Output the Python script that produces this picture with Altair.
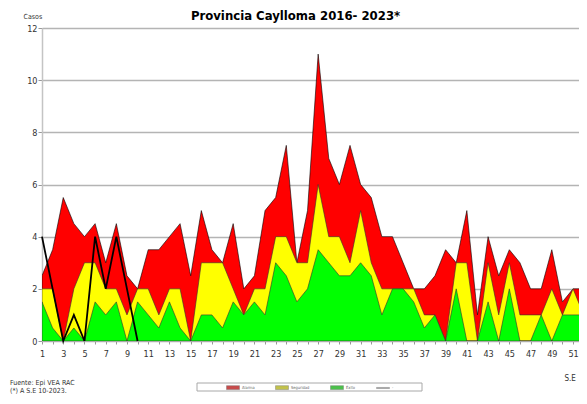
import altair as alt
import pandas as pd

# canal endemico, semanas epidemiologicas 1-52
semanas = list(range(1, 53))
alarma = [2.5, 3.5, 5.5, 4.5, 4, 4.5, 3, 4.5, 2.5, 2, 3.5, 3.5, 4, 4.5, 2.5, 5,
          3.5, 3, 4.5, 2, 2.5, 5, 5.5, 7.5, 3, 5, 11, 7, 6, 7.5, 6, 5.5, 4, 4,
          3, 2, 2, 2.5, 3.5, 3, 5, 1, 4, 2.5, 3.5, 3, 2, 2, 3.5, 1.5, 2, 2]
seguridad = [2, 2, 0, 2, 3, 3, 2, 2, 1, 2, 2, 1, 2, 2, 0, 3, 3, 3, 2, 1, 2, 2,
             4, 4, 3, 3, 6, 4, 4, 3, 5, 3, 2, 2, 2, 2, 1, 1, 0, 3, 3, 0, 3, 1,
             3, 1, 1, 1, 2, 1, 2, 1]
exito = [1.5, 0.5, 0, 0.5, 0, 1.5, 1, 1.5, 0, 1.5, 1, 0.5, 1.5, 0.5, 0, 1, 1,
         0.5, 1.5, 1, 1.5, 1, 3, 2.5, 1.5, 2, 3.5, 3, 2.5, 2.5, 3, 2.5, 1, 2, 2,
         1.5, 0.5, 1, 0, 2, 0, 0, 1.5, 0, 2, 0, 0, 1, 0, 1, 1, 1]
casos_2023 = [4, 2, 0, 1, 0, 4, 2, 4, 2, 0]

serie_nombres = ["Alarma", "Seguridad", "Éxito", "-"]
serie_colores = ["#b00000", "#a8a800", "#00a800", "#808080"]

FONT = "DejaVu Sans Condensed, Liberation Sans, sans-serif"

W, H = 537, 313

df = pd.DataFrame({"semana": semanas, "alarma": alarma,
                   "seguridad": seguridad, "exito": exito})
df_2023 = pd.DataFrame({"semana": semanas[:len(casos_2023)], "casos": casos_2023})
df_leyenda = pd.DataFrame({"serie": serie_nombres})
uno = pd.DataFrame({"k": [0]})

x_axis = alt.Axis(values=semanas, labelExpr="datum.value % 2 == 1 ? datum.label : ''",
                  title="S.E", titleX=522, titleY=39, titleAlign="left",
                  titleBaseline="alphabetic", titleFontSize=8, titleFontWeight="normal",
                  titleFont=FONT, titleColor="#333", grid=False, tickSize=3,
                  tickColor="#999", domainColor="#aaa", labelFont=FONT,
                  labelFontSize=9, labelColor="#333", labelPadding=5,
                  labelOverlap=False, labelFlush=False)
y_axis = alt.Axis(values=[0, 2, 4, 6, 8, 10, 12], title="Casos", titleAngle=0,
                  titleX=-19, titleY=-10, titleAlign="left", titleBaseline="alphabetic",
                  titleFontSize=7, titleFontWeight="normal", titleFont=FONT,
                  titleColor="#333", gridColor="#b4b4b4", gridWidth=1.5,
                  domainColor="#c4c4c4", domainWidth=1.5, tickColor="#999",
                  tickSize=4, labelFont=FONT, labelFontSize=9, labelColor="#333",
                  labelPadding=1)

x_enc = alt.X("semana:Q", scale=alt.Scale(domain=[1, 51.56], nice=False, zero=False),
              axis=x_axis)


def y_enc(campo):
    return alt.Y(campo, type="quantitative", scale=alt.Scale(domain=[0, 12], nice=False),
                 axis=y_axis)


area_alarma = alt.Chart(df).mark_area(color="#ff0000", stroke="black",
                                      strokeWidth=0.6, clip=True).encode(
    x=x_enc, y=y_enc("alarma"))
area_seguridad = alt.Chart(df).mark_area(color="#ffff00", stroke="#333",
                                         strokeWidth=0.6, clip=True).encode(
    x=x_enc, y=y_enc("seguridad"))
area_exito = alt.Chart(df).mark_area(color="#00ff00", stroke="#333",
                                     strokeWidth=0.6, clip=True).encode(
    x=x_enc, y=y_enc("exito"))
linea_2023 = alt.Chart(df_2023).mark_line(color="black", strokeWidth=1.8).encode(
    x=x_enc, y=y_enc("casos"))

# marco de la leyenda
marco = alt.Chart(uno).mark_rect(
    fill="white", stroke="#a8a8a8", strokeWidth=1).encode(
    x=alt.value(155), x2=alt.value(380), y=alt.value(355), y2=alt.value(363))

leyenda = alt.Chart(df_leyenda).mark_point(filled=True).encode(
    color=alt.Color("serie:N", scale=alt.Scale(domain=serie_nombres, range=serie_colores),
                    legend=alt.Legend(title=None, orient="none", legendX=184, legendY=352.5,
                                      direction="horizontal", columnPadding=19,
                                      labelOffset=2, labelFontSize=4, labelFont=FONT,
                                      labelColor="#666", symbolSize=169,
                                      symbolStrokeWidth=0.4, symbolStrokeColor="#333",
                                      padding=0, zindex=1)),
    shape=alt.Shape("serie:N", scale=alt.Scale(
        domain=serie_nombres,
        range=["M-1,-0.3H1V0.3H-1Z", "M-1,-0.3H1V0.3H-1Z", "M-1,-0.3H1V0.3H-1Z",
               "M-1,-0.08H1V0.08H-1Z"]), legend=None)
).transform_filter("false")

titulo = alt.Chart(uno).mark_text(
    text="Provincia Caylloma 2016- 2023*", align="center", baseline="alphabetic",
    font=FONT, fontSize=13, fontWeight="bold", color="black").encode(
    x=alt.value(253.5), y=alt.value(-8))

fuente = alt.Chart(uno).mark_text(
    text=["Fuente:  Epi VEA RAC", "(*) A S.E 10-2023."], align="left",
    baseline="alphabetic", font=FONT, fontSize=7,
    lineHeight=8.5, color="#333").encode(
    x=alt.value(-32), y=alt.value(356.5))

chart = alt.layer(area_alarma, area_seguridad, area_exito, linea_2023, marco,
                  leyenda, titulo, fuente).properties(
    width=W, height=H,
    padding={"left": 34, "top": 20, "right": 0, "bottom": 54},
    autosize=alt.AutoSizeParams(type="none"),
).configure_view(stroke=None)

chart.save("out.html", embed_options={"renderer": "svg", "actions": False})
